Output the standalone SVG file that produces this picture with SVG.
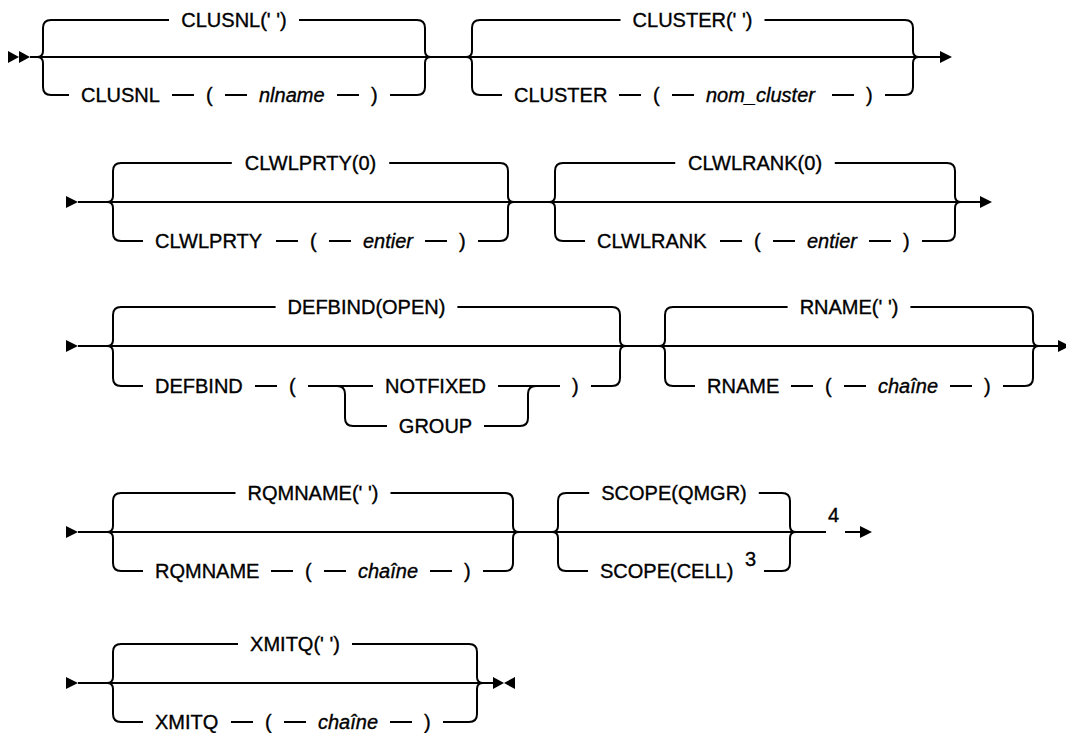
<svg xmlns="http://www.w3.org/2000/svg" width="1066" height="733" viewBox="0 0 1066 733">
<style>
.ln{fill:none;stroke:#000;stroke-width:2;}
.ah{fill:#000;stroke:none;}
.t{font-family:"Liberation Sans",Arial,sans-serif;font-size:20px;fill:#000;stroke:#000;stroke-width:0.35;}
.i{font-style:italic;}
.c{text-anchor:middle;}
</style>
<rect width="1066" height="733" fill="#fff"/>
<g id="connectors">
<!-- Row 1 -->
<path class="ln" d="M30 57 H940"/>
<polygon class="ah" points="8,51 19,57 8,63"/>
<polygon class="ah" points="19,51 30,57 19,63"/>
<polygon class="ah" points="940,51 952,57 940,63"/>
<path class="ln" d="M37 57 Q43 57 43 51 V28 Q43 20 51 20 H169 M299 20 H417 Q425 20 425 28 V51 Q425 57 431 57"/>
<path class="ln" d="M37 57 Q43 57 43 63 V87 Q43 95 51 95 H69 M172 95 H194 M225 95 H247 M337 95 H359 M390 95 H417 Q425 95 425 87 V63 Q425 57 431 57"/>
<path class="ln" d="M466 57 Q472 57 472 51 V28 Q472 20 480 20 H620.5 M764.5 20 H905 Q913 20 913 28 V51 Q913 57 919 57"/>
<path class="ln" d="M466 57 Q472 57 472 63 V87 Q472 95 480 95 H502 M619 95 H641 M672 95 H694 M832 95 H854 M885 95 H905 Q913 95 913 87 V63 Q913 57 919 57"/>
<!-- Row 2 -->
<path class="ln" d="M78 202 H980"/>
<polygon class="ah" points="66,196 78,202 66,208"/>
<polygon class="ah" points="980,196 992,202 980,208"/>
<path class="ln" d="M107 202 Q113 202 113 196 V171 Q113 163 121 163 H231.8 M389.2 163 H500 Q508 163 508 171 V196 Q508 202 514 202"/>
<path class="ln" d="M107 202 Q113 202 113 208 V233 Q113 241 121 241 H143 M276 241 H298 M329 241 H351 M425 241 H447 M478 241 H500 Q508 241 508 233 V208 Q508 202 514 202"/>
<path class="ln" d="M549 202 Q555 202 555 196 V171 Q555 163 563 163 H675.2 M834.8 163 H947 Q955 163 955 171 V196 Q955 202 961 202"/>
<path class="ln" d="M549 202 Q555 202 555 208 V233 Q555 241 563 241 H585 M720 241 H742 M773 241 H795 M869 241 H891 M922 241 H947 Q955 241 955 233 V208 Q955 202 961 202"/>
<!-- Row 3 -->
<path class="ln" d="M78 346 H1058"/>
<polygon class="ah" points="66,340 78,346 66,352"/>
<polygon class="ah" points="1058,340 1070,346 1058,352"/>
<path class="ln" d="M107 346 Q113 346 113 340 V315 Q113 307 121 307 H275.6 M457.4 307 H612 Q620 307 620 315 V340 Q620 346 626 346"/>
<path class="ln" d="M107 346 Q113 346 113 352 V378 Q113 386 121 386 H143 M255 386 H277 M308 386 H373 M498 386 H560 M591 386 H612 Q620 386 620 378 V352 Q620 346 626 346"/>
<path class="ln" d="M337 386 Q345 386 345 394 V418 Q345 426 353 426 H387 M484 426 H520 Q528 426 528 418 V394 Q528 386 536 386"/>
<path class="ln" d="M659 346 Q665 346 665 340 V315 Q665 307 673 307 H787.6 M910.4 307 H1025 Q1033 307 1033 315 V340 Q1033 346 1039 346"/>
<path class="ln" d="M659 346 Q665 346 665 352 V378 Q665 386 673 386 H695 M791 386 H813 M844 386 H866 M950 386 H972 M1003 386 H1025 Q1033 386 1033 378 V352 Q1033 346 1039 346"/>
<!-- Row 4 -->
<path class="ln" d="M78 532 H826 M845 532 H860"/>
<polygon class="ah" points="66,526 78,532 66,538"/>
<polygon class="ah" points="860,526 872,532 860,538"/>
<path class="ln" d="M107 532 Q113 532 113 526 V501 Q113 493 121 493 H235.5 M390.5 493 H505 Q513 493 513 501 V526 Q513 532 519 532"/>
<path class="ln" d="M107 532 Q113 532 113 538 V563 Q113 571 121 571 H143 M271 571 H293 M324 571 H346 M430 571 H452 M483 571 H505 Q513 571 513 563 V538 Q513 532 519 532"/>
<path class="ln" d="M552 532 Q558 532 558 526 V501 Q558 493 566 493 H589.2 M758.8 493 H782 Q790 493 790 501 V526 Q790 532 796 532"/>
<path class="ln" d="M552 532 Q558 532 558 538 V563 Q558 571 566 571 H588 M764 571 H782 Q790 571 790 563 V538 Q790 532 796 532"/>
<!-- Row 5 -->
<path class="ln" d="M78 683 H493"/>
<polygon class="ah" points="66,677 78,683 66,689"/>
<polygon class="ah" points="493,677 504,683 493,689"/>
<polygon class="ah" points="515,677 504,683 515,689"/>
<path class="ln" d="M107 683 Q113 683 113 677 V652 Q113 644 121 644 H238 M352 644 H469 Q477 644 477 652 V677 Q477 683 483 683"/>
<path class="ln" d="M107 683 Q113 683 113 689 V714 Q113 722 121 722 H143 M231 722 H253 M284 722 H306 M390 722 H412 M443 722 H469 Q477 722 477 714 V689 Q477 683 483 683"/>
</g>
<g id="clusnl">
<text class="t c" x="234" y="27">CLUSNL(' ')</text>
<text class="t" x="81" y="102">CLUSNL</text>
<text class="t" x="206" y="102">(</text>
<text class="t i" x="259" y="102">nlname</text>
<text class="t" x="371" y="102">)</text>
</g>
<g id="cluster">
<text class="t c" x="692.5" y="27">CLUSTER(' ')</text>
<text class="t" x="514" y="102">CLUSTER</text>
<text class="t" x="653" y="102">(</text>
<text class="t i" x="706" y="102">nom_cluster</text>
<text class="t" x="866" y="102">)</text>
</g>
<g id="clwlprty">
<text class="t c" x="310.5" y="170">CLWLPRTY(0)</text>
<text class="t" x="155" y="248">CLWLPRTY</text>
<text class="t" x="310" y="248">(</text>
<text class="t i" x="363" y="248">entier</text>
<text class="t" x="459" y="248">)</text>
</g>
<g id="clwlrank">
<text class="t c" x="755" y="170">CLWLRANK(0)</text>
<text class="t" x="597" y="248">CLWLRANK</text>
<text class="t" x="754" y="248">(</text>
<text class="t i" x="807" y="248">entier</text>
<text class="t" x="903" y="248">)</text>
</g>
<g id="defbind">
<text class="t c" x="366.5" y="314">DEFBIND(OPEN)</text>
<text class="t" x="155" y="393">DEFBIND</text>
<text class="t" x="289" y="393">(</text>
<text class="t c" x="435.5" y="393">NOTFIXED</text>
<text class="t c" x="435.5" y="433">GROUP</text>
<text class="t" x="572" y="393">)</text>
</g>
<g id="rname">
<text class="t c" x="849" y="314">RNAME(' ')</text>
<text class="t" x="707" y="393">RNAME</text>
<text class="t" x="825" y="393">(</text>
<text class="t i" x="878" y="393">chaîne</text>
<text class="t" x="984" y="393">)</text>
</g>
<g id="rqmname">
<text class="t c" x="313" y="500">RQMNAME(' ')</text>
<text class="t" x="155" y="578">RQMNAME</text>
<text class="t" x="305" y="578">(</text>
<text class="t i" x="358" y="578">chaîne</text>
<text class="t" x="464" y="578">)</text>
</g>
<g id="scope">
<text class="t c" x="674" y="500">SCOPE(QMGR)</text>
<text class="t" x="600" y="578">SCOPE(CELL)</text>
<text class="t" x="745" y="566">3</text>
<text class="t" x="828" y="522">4</text>
</g>
<g id="xmitq">
<text class="t c" x="295" y="651">XMITQ(' ')</text>
<text class="t" x="155" y="729">XMITQ</text>
<text class="t" x="265" y="729">(</text>
<text class="t i" x="318" y="729">chaîne</text>
<text class="t" x="424" y="729">)</text>
</g>
</svg>
